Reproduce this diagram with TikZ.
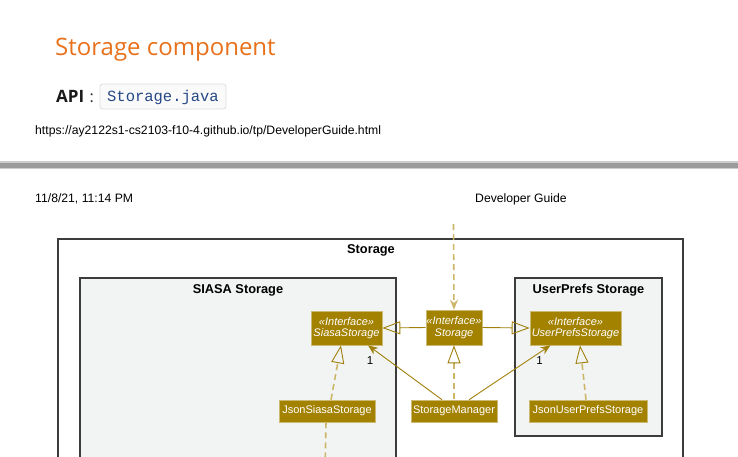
\documentclass[tikz,border=0pt]{standalone}
\usepackage{fontspec}
\setmainfont{Open Sans}
\newfontfamily\diagfont{Liberation Sans}
\newfontfamily\codefont{Liberation Mono}
\usetikzlibrary{arrows.meta,calc}
\definecolor{gold}{RGB}{163,130,0}
\definecolor{goldline}{RGB}{160,128,10}
\definecolor{dashgold}{RGB}{205,182,105}
\definecolor{pkgfill}{RGB}{242,244,244}
\definecolor{pkgdraw}{RGB}{60,60,60}
\definecolor{titleorange}{RGB}{232,113,28}
\definecolor{codeblue}{RGB}{38,72,135}
\definecolor{barmid}{RGB}{155,155,155}
\definecolor{barlight}{RGB}{205,205,205}
\tikzset{
  cls/.style={draw=gold!55!white, line width=0.6pt, fill=gold, text=white,
    font=\diagfont\fontsize{11}{12}\selectfont, inner sep=0pt, align=center},
  iface/.style={cls, font=\diagfont\itshape\fontsize{11}{11.7}\selectfont},
  pkg/.style={draw=pkgdraw, line width=1.5pt, fill=pkgfill},
  pkgtitle/.style={font=\diagfont\bfseries\fontsize{12.8}{14}\selectfont, anchor=base, inner sep=0pt},
  solidcon/.style={draw=goldline, line width=0.9pt},
  dashcon/.style={draw=dashgold, line width=1.6pt, dash pattern=on 6pt off 4pt},
  gentip/.style={-{Triangle[open, length=18pt, width=13pt, line width=0.9pt]}},
  assoctip/.style={-{Stealth[length=10pt, width=8pt]}},
  pagetext/.style={font=\diagfont\fontsize{12.2}{14}\selectfont, anchor=base west, inner sep=0pt},
  mult/.style={font=\diagfont\fontsize{11.5}{12}\selectfont, inner sep=0pt}
}
\begin{document}
\begin{tikzpicture}[x=1pt, y=-1pt]
\clip (0,0) rectangle (738,456);
\fill[white] (0,0) rectangle (738,456);

% page header
\node[anchor=base west, inner sep=0pt, text=titleorange, font=\fontsize{24}{28}\selectfont] (title) at (55,55) {Storage component};
\node[anchor=base west, inner sep=0pt, font=\bfseries\fontsize{17}{20}\selectfont, text=black!90] (api) at (56,102) {API};
\node[anchor=base west, inner sep=0pt, font=\fontsize{16}{19}\selectfont, text=black!80] (colon) at (89.5,102) {:};
\node[draw=black!13, fill=black!2, rounded corners=3pt, line width=0.8pt, minimum width=126pt, minimum height=25pt, inner sep=0pt, text height=12pt, text depth=2pt, text=codeblue, font=\codefont\fontsize{15.5}{18}\selectfont] (code) at (163,96.5) {Storage.java};
\node[pagetext] (url) at (35,134) {https://ay2122s1-cs2103-f10-4.github.io/tp/DeveloperGuide.html};

% separator bar
\fill[barlight] (0,160.5) rectangle (738,169);
\fill[barmid] (0,162.5) rectangle (738,167.5);

\node[pagetext] (date) at (35,202) {11/8/21, 11:14 PM};
\node[pagetext] (dg) at (475,202) {Developer Guide};

% packages
\draw[draw=pkgdraw, line width=1.8pt, fill=white] (58,239) rectangle (683,480);
\node[pkgtitle] (storagetitle) at (371,253) {Storage};
\draw[pkg] (80,278) rectangle (396,480);
\node[pkgtitle] (siasatitle) at (238,293) {SIASA Storage};
\draw[pkg] (515,278) rectangle (662,436);
\node[pkgtitle] (upreftitle) at (588.5,293) {UserPrefs Storage};

% classes
\node[iface, minimum width=71pt, minimum height=34pt] (siasa) at (346.5,328) {«Interface»\\SiasaStorage};
\node[iface, minimum width=56pt, minimum height=35pt] (stor) at (454,327.5) {«Interface»\\Storage};
\node[iface, minimum width=91pt, minimum height=34pt] (upref) at (575.5,328) {«Interface»\\UserPrefsStorage};
\node[cls, minimum width=96pt, minimum height=22pt] (jsiasa) at (327,411) {JsonSiasaStorage};
\node[cls, minimum width=86pt, minimum height=22pt] (mgr) at (454,411) {StorageManager};
\node[cls, minimum width=118pt, minimum height=22pt] (jupref) at (588,411) {JsonUserPrefsStorage};

\coordinate (topin) at (453.5,224);
\coordinate (below) at (325,470);

% connectors
\draw[dashcon, assoctip] (topin) -- (stor.north);
\draw[solidcon, gentip] (stor.west) -- (siasa.east);
\draw[solidcon, gentip] (stor.east) -- (upref.west);
\draw[dashcon] ([yshift=-18pt]stor.south) -- (mgr.north);
\draw[solidcon, gentip] ([yshift=-18pt]stor.south) -- (stor.south);
\draw[solidcon, assoctip] ([xshift=-12pt]mgr.north) -- ([xshift=21.5pt]siasa.south);
\draw[solidcon, assoctip] ([xshift=15pt]mgr.north) -- ([xshift=-25pt]upref.south);
\draw[dashcon] ([xshift=4pt]jsiasa.north) -- ($([xshift=-5.5pt]siasa.south)!0.33!([xshift=4pt]jsiasa.north)$);
\draw[solidcon, gentip] ($([xshift=-5.5pt]siasa.south)!0.33!([xshift=4pt]jsiasa.north)$) -- ([xshift=-5.5pt]siasa.south);
\draw[dashcon] ([xshift=-2pt]jupref.north) -- ($([xshift=4.5pt]upref.south)!0.33!([xshift=-2pt]jupref.north)$);
\draw[solidcon, gentip] ($([xshift=4.5pt]upref.south)!0.33!([xshift=-2pt]jupref.north)$) -- ([xshift=4.5pt]upref.south);
\draw[dashcon] ([xshift=-1pt]jsiasa.south) -- (below);

\node[mult] (m1) at (370,361) {1};
\node[mult] (m2) at (539.5,361) {1};
\end{tikzpicture}
\end{document}
